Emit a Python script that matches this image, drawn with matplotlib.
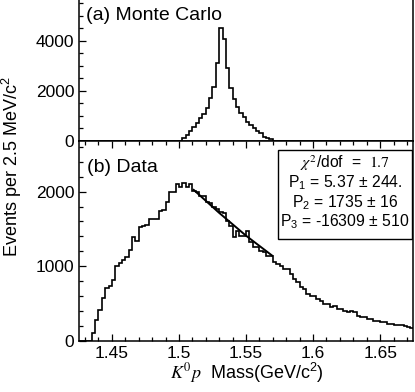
import numpy as np
import matplotlib
matplotlib.use("Agg")
import matplotlib.pyplot as plt
from matplotlib.ticker import MultipleLocator
from matplotlib.patches import Rectangle

plt.rcParams['font.family'] = ['Liberation Sans', 'DejaVu Sans']
plt.rcParams['mathtext.fontset'] = 'stix'

# ---- data ----
bin_lo = 1.425
bin_width = 0.0025
n_bins = 100

mc_counts = [0]*31 + [107, 240, 400, 573, 733, 907, 1067, 1307, 1707, 2173, 3133,
                      4507, 4080, 2907, 2107, 1680, 1347, 1107, 947, 773, 640, 507,
                      413, 307, 173, 107, 67] + [0]*42

data_counts = [0, 0, 0, 0, 103, 282, 420, 570, 715, 740,
               810, 1005, 1050, 1080, 1120, 1215, 1389, 1344, 1532, 1535,
               1555, 1635, 1635, 1635, 1746, 1750, 1857, 1991, 1991, 2103,
               2058, 2112, 2058, 2103, 2014, 2000, 1947, 1940, 1857, 1850,
               1790, 1773, 1723, 1715, 1612, 1545, 1389, 1478, 1411, 1411,
               1478, 1322, 1264, 1255, 1210, 1188, 1143, 1143, 1054, 1032,
               1009, 965, 965, 898, 830, 786, 720, 697, 630, 608,
               608, 560, 541, 497, 497, 451, 474, 430, 430, 407,
               384, 407, 390, 340, 317, 317, 296, 296, 273, 273,
               250, 250, 229, 229, 220, 220, 220, 206, 190, 175]

fit_x = [1.511, 1.530, 1.550, 1.5695]
fit_y = [2023, 1715, 1410, 1143]

x_ticks = [1.45, 1.5, 1.55, 1.6, 1.65]
x_tick_labels = ['1.45', '1.5', '1.55', '1.6', '1.65']

edges = bin_lo + bin_width*np.arange(n_bins + 1)

W, H = 415, 392
fig = plt.figure(figsize=(W/100, H/100), dpi=100)

L, R = 79, 413
ax1 = fig.add_axes([L/W, 1 - 141/H, (R-L)/W, 142/H])
ax2 = fig.add_axes([L/W, 1 - 341/H, (R-L)/W, 200/H])

lw = 1.1
for ax in (ax1, ax2):
    for s in ax.spines.values():
        s.set_linewidth(lw)
    ax.set_xlim(1.4255, 1.6745)
    ax.xaxis.set_minor_locator(MultipleLocator(0.01))
    ax.tick_params(which='both', direction='in', width=0.9, labelsize=12.5, right=False)
    ax.tick_params(which='major', length=5)
    ax.tick_params(which='minor', length=3)

ax1.stairs(mc_counts, edges, color='black', lw=1.2)
ax1.set_ylim(0, 5680)
ax1.yaxis.set_major_locator(MultipleLocator(2000))
ax1.yaxis.set_minor_locator(MultipleLocator(500))
ax1.tick_params(which='both', bottom=False, labelbottom=False)
ax1.text(0.021, 0.885, '(a) Monte Carlo', transform=ax1.transAxes,
         fontsize=14, ha='left', va='center')

ax2.stairs(data_counts, edges, color='black', lw=1.2)
ax2.plot(fit_x, fit_y, color='black', lw=1.4)
ax2.set_ylim(0, 2677)
ax2.yaxis.set_major_locator(MultipleLocator(1000))
ax2.yaxis.set_minor_locator(MultipleLocator(200))
ax2.tick_params(which='both', top=True)
ax2.set_xticks(x_ticks)
ax2.set_xticklabels(x_tick_labels)
ax2.text(0.024, 0.87, '(b) Data', transform=ax2.transAxes,
         fontsize=14, ha='left', va='center')

bx0, bx1 = (278.3-L)/(R-L), (411.7-L)/(R-L)
by0, by1 = (341-239)/200, (341-150)/200
ax2.add_patch(Rectangle((bx0, by0), bx1-bx0, by1-by0, transform=ax2.transAxes,
                        fill=True, facecolor='white', edgecolor='black', lw=1.0, zorder=5))
cx = (bx0 + bx1)/2
lines = [r'$\chi^2$/dof  =  $\mathrm{1.7}$',
         r'P$\mathregular{_1}$ = 5.37 ± 244.',
         r'P$\mathregular{_2}$ = 1735 ± 16',
         r'P$\mathregular{_3}$ = -16309 ± 510']
ys = [163, 183, 203, 222]
for t, y in zip(lines, ys):
    ax2.text(cx, (341-y)/200, t, transform=ax2.transAxes, fontsize=11.3,
             ha='center', va='center', zorder=6)

fig.text(12/W, 1 - 167/H, r'Events per 2.5 MeV/c$\mathregular{^2}$', rotation=90,
         fontsize=13, ha='center', va='center')
fig.text(247/W, 1 - 373/H, r'$K^{\mathit{0}}p$  Mass(GeV/c$\mathregular{^2}$)',
         fontsize=13, ha='center', va='center')

fig.savefig('out.png', dpi=100)
